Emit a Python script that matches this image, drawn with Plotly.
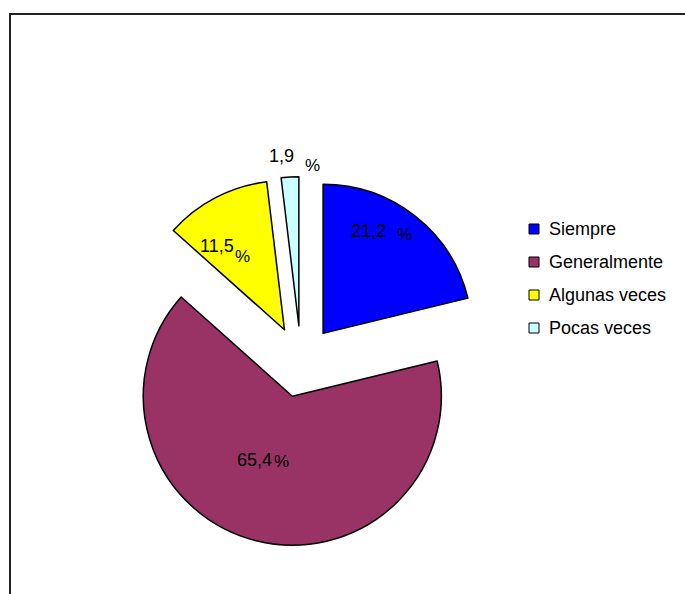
import plotly.graph_objects as go

# ---- data ----
categories = ["Siempre", "Generalmente", "Algunas veces", "Pocas veces"]
values = [21.2, 65.4, 11.5, 1.9]
colors = ["#0000FF", "#993366", "#FFFF00", "#CCFFFF"]

W, H = 685, 594
FONT = "Liberation Sans, Arial, sans-serif"


def px(x):
    return x / W


def py(y):
    return 1 - y / H


fig = go.Figure()
fig.add_trace(go.Pie(
    labels=categories,
    values=values,
    sort=False,
    direction="clockwise",
    rotation=0,
    pull=[0.24] * len(values),
    marker=dict(colors=colors, line=dict(color="black", width=1.5)),
    textinfo="none",
    hoverinfo="label+percent",
    showlegend=False,
    domain=dict(x=[px(116.2), px(485.8)], y=[py(546.5), py(176.5)]),
))

# data labels (number and percent sign placed as in the original)
label_pos = [
    ((368, 231.5), (404, 234)),
    ((254, 459.5), (281, 461)),
    ((217, 246), (243, 256)),
    ((281.5, 156.5), (312.5, 165)),
]
annotations = []
for v, (npos, ppos) in zip(values, label_pos):
    txt = f"{v:.1f}".replace(".", ",")
    annotations.append(dict(x=px(npos[0]), y=py(npos[1]), xref="paper", yref="paper",
                            text=txt, showarrow=False, xanchor="center", yanchor="middle",
                            font=dict(family=FONT, size=18, color="black")))
    annotations.append(dict(x=px(ppos[0]), y=py(ppos[1]), xref="paper", yref="paper",
                            text="%", showarrow=False, xanchor="center", yanchor="middle",
                            font=dict(family=FONT, size=17, color="black")))

shapes = []
# legend (manual, to reproduce spacing)
leg_x0, leg_y0, leg_dy, sq = 529, 229, 33, 10
for i, (cat, col) in enumerate(zip(categories, colors)):
    cy = leg_y0 + i * leg_dy
    shapes.append(dict(type="rect", xref="paper", yref="paper",
                       x0=px(leg_x0), x1=px(leg_x0 + sq),
                       y0=py(cy + sq / 2), y1=py(cy - sq / 2),
                       fillcolor=col, line=dict(color="black", width=1)))
    annotations.append(dict(x=px(leg_x0 + sq + 8), y=py(cy), xref="paper", yref="paper",
                            text=cat, showarrow=False, xanchor="left", yanchor="middle",
                            font=dict(family=FONT, size=18, color="black")))

# chart frame (left and top edges visible)
shapes.append(dict(type="rect", xref="paper", yref="paper",
                   x0=px(10), x1=1.2, y0=-0.2, y1=py(14),
                   line=dict(color="#222222", width=2), fillcolor="rgba(0,0,0,0)"))

fig.update_layout(
    width=W, height=H,
    margin=dict(l=0, r=0, t=0, b=0),
    paper_bgcolor="white",
    plot_bgcolor="white",
    showlegend=False,
    shapes=shapes,
    annotations=annotations,
)

fig.write_html("out.html")
